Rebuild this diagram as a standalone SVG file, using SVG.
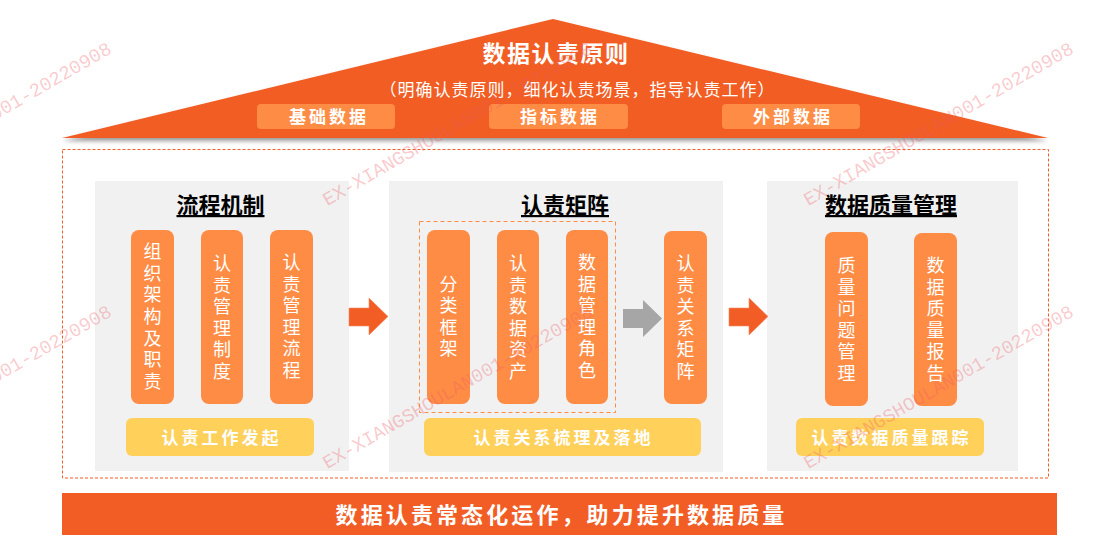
<svg xmlns="http://www.w3.org/2000/svg" width="1114" height="553" viewBox="0 0 1114 553">
<style>
text{font-family:"Noto Sans CJK SC","Noto Sans",sans-serif;text-anchor:middle;dominant-baseline:central}
.w{fill:#fff}
.b{font-weight:700}
.chip{fill:#FF8C45}
.yel{fill:#FFD05A}
.panel{fill:#F1F1F1}
.pt{font-size:18px;fill:#fff;writing-mode:vertical-rl;text-orientation:upright;letter-spacing:3.6px}
.yt{font-size:17px;font-weight:700;fill:#fff;letter-spacing:3px}
.ttl{font-size:22px;font-weight:700;fill:#000;text-decoration:underline}
.wm{font-family:"Liberation Mono",monospace;font-size:19px;fill:#EE5A66;fill-opacity:.33}
.ar{fill:#F15D24;stroke:#F58A62;stroke-width:.6}
</style>
<defs>
<filter id="sh" x="-5%" y="-10%" width="110%" height="125%"><feDropShadow dx="0" dy="3" stdDeviation="2" flood-color="#000" flood-opacity=".4"/></filter>
</defs>
<rect width="1114" height="553" fill="#fff"/>
<g id="roof">
<polygon points="62,138 553,19 1048,138" fill="#F15D24" filter="url(#sh)"/>
<text class="w b" x="556" y="52" font-size="23" letter-spacing="1.5">数据认责原则</text>
<text class="w" x="577.500" y="88" font-size="17" letter-spacing="1">（明确认责原则，细化认责场景，指导认责工作）</text>
</g>
<g id="chip1"><rect class="chip" x="257" y="104" width="138" height="25" rx="4"/><text class="yt" x="329" y="115">基础数据</text></g>
<g id="chip2"><rect class="chip" x="489" y="104" width="139" height="25" rx="4"/><text class="yt" x="560" y="115">指标数据</text></g>
<g id="chip3"><rect class="chip" x="722" y="104" width="138" height="25" rx="4"/><text class="yt" x="793" y="115">外部数据</text></g>
<g id="frame"><rect x="62.500" y="149.500" width="986" height="328.500" fill="none" stroke="#F15D24" stroke-width="1" stroke-dasharray="3 2"/></g>
<g id="panel1"><rect class="panel" x="95" y="181" width="254" height="290"/><text class="ttl" x="220.500" y="203">流程机制</text></g>
<g id="panel2"><rect class="panel" x="389" y="181" width="334" height="291"/><text class="ttl" x="565" y="203">认责矩阵</text>
<rect x="419.500" y="221.500" width="196" height="191" fill="none" stroke="#FF8C45" stroke-width="1" stroke-dasharray="4 3"/></g>
<g id="panel3"><rect class="panel" x="767" y="181" width="251" height="290"/><text class="ttl" x="891" y="203">数据质量管理</text></g>
<g id="p1"><rect class="chip" x="131" y="230" width="43" height="174" rx="8"/><text class="pt" x="152.500" y="318">组织架构及职责</text></g>
<g id="p2"><rect class="chip" x="201" y="230" width="42" height="174" rx="8"/><text class="pt" x="222" y="319">认责管理制度</text></g>
<g id="p3"><rect class="chip" x="270" y="230" width="43" height="174" rx="8"/><text class="pt" x="291.500" y="318">认责管理流程</text></g>
<g id="p4"><rect class="chip" x="427" y="230" width="43" height="174" rx="8"/><text class="pt" x="448.500" y="318">分类框架</text></g>
<g id="p5"><rect class="chip" x="497" y="230" width="42" height="174" rx="8"/><text class="pt" x="518" y="319">认责数据资产</text></g>
<g id="p6"><rect class="chip" x="566" y="230" width="42" height="174" rx="8"/><text class="pt" x="587" y="318">数据管理角色</text></g>
<g id="p7"><rect class="chip" x="664" y="231" width="43" height="173" rx="8"/><text class="pt" x="685.500" y="319">认责关系矩阵</text></g>
<g id="p8"><rect class="chip" x="825" y="232" width="43" height="174" rx="8"/><text class="pt" x="846.500" y="321">质量问题管理</text></g>
<g id="p9"><rect class="chip" x="914" y="233" width="43" height="173" rx="8"/><text class="pt" x="935.500" y="321">数据质量报告</text></g>
<g id="y1"><rect class="yel" x="126" y="418" width="188" height="38" rx="6"/><text class="yt" x="221.500" y="436">认责工作发起</text></g>
<g id="y2"><rect class="yel" x="424" y="418" width="277" height="38" rx="6"/><text class="yt" x="563.500" y="436">认责关系梳理及落地</text></g>
<g id="y3"><rect class="yel" x="796" y="418" width="188" height="38" rx="6"/><text class="yt" x="891.500" y="436">认责数据质量跟踪</text></g>
<g id="connectors">
<polygon class="ar" points="349,308 369,308 369,298 388,316.500 369,335 369,326 349,326"/>
<polygon points="623,309 643,309 643,300 662,318.500 643,337 643,328 623,328" fill="#A6A6A6"/>
<polygon class="ar" points="729,308 749,308 749,298 768,316.500 749,335 749,326 729,326"/>
</g>
<g id="banner"><rect x="62" y="493" width="995" height="42" fill="#F15D24"/><text class="w b" x="561.500" y="513" font-size="22" letter-spacing="3.100">数据认责常态化运作，助力提升数据质量</text></g>
<g id="watermarks">
<text class="wm" transform="translate(-23 125) rotate(-30)" x="0" y="0">EX-XIANGSHOULAN001-20220908</text>
<text class="wm" transform="translate(458 125) rotate(-30)" x="0" y="0">EX-XIANGSHOULAN001-20220908</text>
<text class="wm" transform="translate(939 125) rotate(-30)" x="0" y="0">EX-XIANGSHOULAN001-20220908</text>
<text class="wm" transform="translate(-23 388) rotate(-30)" x="0" y="0">EX-XIANGSHOULAN001-20220908</text>
<text class="wm" transform="translate(458 388) rotate(-30)" x="0" y="0">EX-XIANGSHOULAN001-20220908</text>
<text class="wm" transform="translate(939 388) rotate(-30)" x="0" y="0">EX-XIANGSHOULAN001-20220908</text>
</g>
</svg>
